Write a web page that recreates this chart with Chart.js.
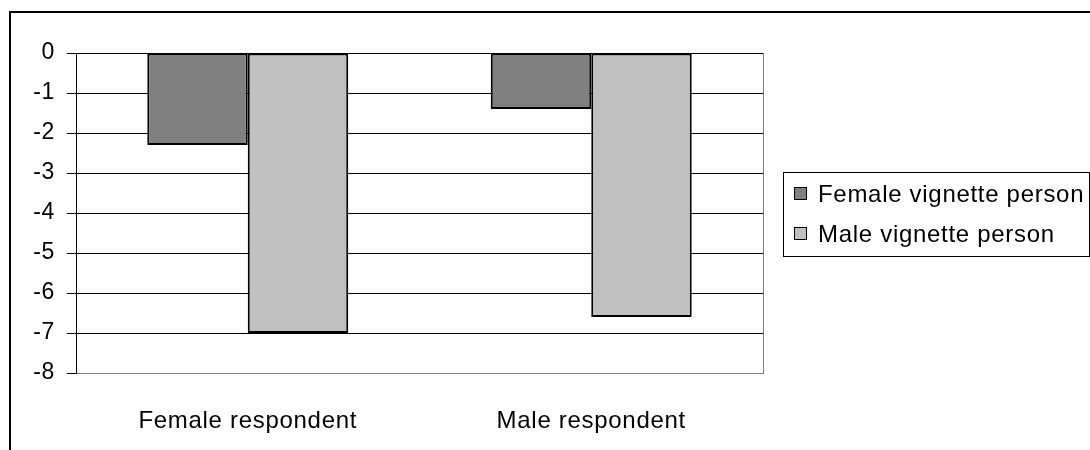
<!DOCTYPE html>
<html>
<head>
<meta charset="utf-8">
<script src="https://cdn.jsdelivr.net/npm/chart.js@4/dist/chart.umd.min.js"></script>
<style>
  html, body { margin: 0; padding: 0; background: #fff; }
  #wrap { width: 1090px; height: 450px; position: relative; }
</style>
</head>
<body>
<div id="wrap"><canvas id="chart" width="1090" height="450"></canvas></div>
<script>
const categories = ["Female respondent", "Male respondent"];
const femaleVignette = [-2.3, -1.4];
const maleVignette = [-7.0, -6.6];
const seriesLabels = ["Female vignette person", "Male vignette person"];
const seriesColors = ["#808080", "#c0c0c0"];

const FONT = "'Liberation Sans', Arial, sans-serif";

// outer frame + plot area border (gray, Excel style)
const framePlugin = {
  id: "frame",
  beforeDraw(chart) {
    const ctx = chart.ctx;
    const a = chart.chartArea;
    // the original text is a little wider than plain Arial
    ctx.letterSpacing = "0.7px";
    ctx.save();
    ctx.strokeStyle = "#808080";
    ctx.lineWidth = 1;
    ctx.strokeRect(a.left + 0.5, a.top + 0.5, a.right - a.left, a.bottom - a.top);
    ctx.restore();
  },
  afterDraw(chart) {
    const ctx = chart.ctx;
    ctx.save();
    ctx.strokeStyle = "#000";
    ctx.lineWidth = 2;
    ctx.strokeRect(10, 12, 2000, 2000);
    ctx.restore();
  }
};

// boxed legend on the right
const legendPlugin = {
  id: "boxLegend",
  afterDraw(chart) {
    const ctx = chart.ctx;
    const x = 783, y = 172, w = 306, h = 84;
    ctx.save();
    ctx.fillStyle = "#fff";
    ctx.fillRect(x, y, w, h);
    ctx.strokeStyle = "#000";
    ctx.lineWidth = 1;
    ctx.strokeRect(x + 0.5, y + 0.5, w, h);
    ctx.font = "24px " + FONT;
    ctx.textBaseline = "middle";
    chart.data.datasets.forEach((ds, i) => {
      const cy = 194 + i * 40;
      ctx.fillStyle = ds.backgroundColor;
      ctx.fillRect(794.5, cy - 6.5, 12, 12);
      ctx.strokeStyle = "#000";
      ctx.strokeRect(794.5, cy - 6.5, 12, 12);
      ctx.fillStyle = "#000";
      ctx.fillText(ds.label, 818, cy + 1);
    });
    ctx.restore();
  }
};

new Chart(document.getElementById("chart"), {
  type: "bar",
  data: {
    labels: categories,
    datasets: [
      {
        label: seriesLabels[0],
        data: femaleVignette,
        backgroundColor: seriesColors[0],
        borderColor: "#000",
        borderWidth: 2,
        borderSkipped: false
      },
      {
        label: seriesLabels[1],
        data: maleVignette,
        backgroundColor: seriesColors[1],
        borderColor: "#000",
        borderWidth: 2,
        borderSkipped: false
      }
    ]
  },
  options: {
    responsive: false,
    animation: false,
    devicePixelRatio: 1,
    layout: { padding: { left: 0, top: 53, right: 327, bottom: 0 } },
    datasets: { bar: { categoryPercentage: 0.585, barPercentage: 1 } },
    plugins: {
      legend: { display: false },
      tooltip: { enabled: false }
    },
    scales: {
      x: {
        grid: { display: false },
        border: { color: "#808080", width: 1 },
        ticks: {
          color: "#000",
          padding: 26,
          maxRotation: 0,
          font: { family: FONT, size: 24 }
        },
        afterFit(scale) { scale.height = 77; }
      },
      y: {
        min: -8,
        max: 0,
        ticks: {
          stepSize: 1,
          color: "#000",
          padding: 12,
          font: { family: FONT, size: 23 }
        },
        grid: {
          color: "#000",
          lineWidth: 1,
          tickLength: 9
        },
        border: { color: "#000", width: 1 },
        afterFit(scale) { scale.width = 76; }
      }
    }
  },
  plugins: [framePlugin, legendPlugin]
});
</script>
</body>
</html>
